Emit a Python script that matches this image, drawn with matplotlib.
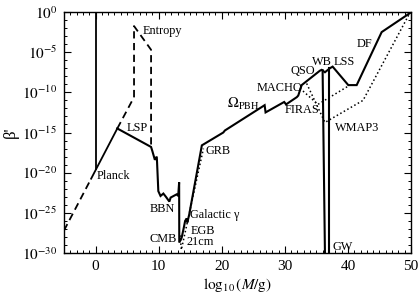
import matplotlib
matplotlib.use("Agg")
import matplotlib.pyplot as plt
from matplotlib.ticker import MultipleLocator
import numpy as np

plt.rcParams['font.family'] = ['Liberation Serif', 'DejaVu Serif']
plt.rcParams['mathtext.fontset'] = 'stix'

# Data: log10(M/g) and log10(beta')
planck_vert_x = [0.0, 0.0]
planck_vert_y = [0.0, -19.6]

planck_dash1_x = [-5.0, -0.7]
planck_dash1_y = [-27.2, -20.75]
planck_solid_x = [-0.7, 3.45]
planck_solid_y = [-20.75, -14.5]
planck_dash2_x = [3.45, 6.1]
planck_dash2_y = [-14.5, -10.6]

entropy_x = [6.1, 6.1, 8.8, 8.8]
entropy_y = [-10.6, -1.75, -4.7, -17.0]

main_x = [3.45, 8.8, 9.0, 9.4, 9.7, 9.75, 9.95, 10.3, 10.75, 11.15, 11.7, 11.9,
          12.85, 13.1, 13.25, 13.27, 13.65, 14.0, 14.2, 14.45, 14.55, 14.85,
          16.85, 20.25, 20.5, 26.8, 26.95, 29.9, 30.2, 31.9, 32.13, 32.67,
          35.57, 35.84, 36.36, 37.15, 37.58, 40.06, 41.39, 45.35, 49.9]
main_y = [-14.5, -16.8, -17.3, -18.4, -18.0, -18.7, -22.3, -22.9, -22.6, -23.0, -23.6, -23.1,
          -22.7, -22.9, -21.2, -28.7, -28.1, -26.8, -26.0, -25.7, -26.2, -25.2,
          -16.6, -15.0, -14.75, -11.6, -12.5, -11.2, -11.5, -10.6, -10.4, -9.1,
          -7.3, -7.2, -7.5, -7.0, -6.8, -9.1, -9.1, -2.5, -0.1]

cm21_x = [13.4, 13.6, 17.1]
cm21_y = [-27.8, -29.6, -17.0]

gw1_x = [35.99, 36.36]
gw1_y = [-7.25, -30.0]
gw2_x = [36.94, 36.94]
gw2_y = [-7.0, -30.0]

firas_x = [32.4, 35.25, 40.0]
firas_y = [-9.5, -11.5, -9.25]
wmap_x = [33.46, 36.36, 42.4, 49.83]
wmap_y = [-8.9, -13.75, -11.0, -0.1]

labels = [
    ("Entropy", 7.4, -2.4),
    ("LSP", 5.0, -14.4),
    ("Planck", 0.25, -20.4),
    ("BBN", 8.6, -24.5),
    ("CMB", 8.6, -28.25),
    ("Galactic γ", 15.0, -25.25),
    ("EGB", 15.0, -27.2),
    ("21cm", 14.35, -28.6),
    ("GRB", 17.35, -17.25),
    ("FIRAS", 29.9, -12.25),
    ("MACHO", 25.6, -9.4),
    ("QSO", 30.95, -7.4),
    ("WB", 34.3, -6.25),
    ("LSS", 37.8, -6.25),
    ("DF", 41.4, -4.0),
    ("WMAP3", 37.95, -14.4),
    ("GW", 37.6, -29.25),
]
omega_label = ("$\\Omega_{\\rm PBH}$", 20.8, -11.5)

y_ticks = [0, -5, -10, -15, -20, -25, -30]
x_ticks = [0, 10, 20, 30, 40, 50]

fig = plt.figure(figsize=(4.19, 2.93), dpi=100)
ax = fig.add_axes([64/419, 40/293, 347/419, 241/293])

lw = 1.3
ax.plot(planck_vert_x, planck_vert_y, 'k-', lw=lw)
ax.plot(planck_dash1_x, planck_dash1_y, 'k--', lw=lw, dashes=(4, 2.5))
ax.plot(planck_solid_x, planck_solid_y, 'k-', lw=lw)
ax.plot(planck_dash2_x, planck_dash2_y, 'k--', lw=lw, dashes=(4, 2.5))
ax.plot(entropy_x, entropy_y, 'k--', lw=lw, dashes=(4, 2.5))
ax.plot(main_x, main_y, 'k-', lw=lw+0.2, solid_joinstyle='miter')
ax.plot(cm21_x, cm21_y, 'k:', lw=1.1)
ax.plot(gw1_x, gw1_y, 'k-', lw=lw+0.2)
ax.plot(gw2_x, gw2_y, 'k-', lw=lw+0.2)
ax.plot(firas_x, firas_y, 'k:', lw=1.1)
ax.plot(wmap_x, wmap_y, 'k:', lw=1.1)

for txt, x, y in labels:
    ax.text(x, y, txt, fontsize=8.8, ha='left', va='center')
ax.text(omega_label[1], omega_label[2], omega_label[0], fontsize=10.5,
        ha='left', va='center')

ax.set_xlim(-5, 50)
ax.set_ylim(-30, 0)
ax.set_xticks(x_ticks)
ax.set_xticklabels([str(v) for v in x_ticks])
ax.set_yticks(y_ticks)
ax.set_yticklabels(["$10^{%d}$" % v for v in y_ticks])
ax.xaxis.set_minor_locator(MultipleLocator(1))
ax.yaxis.set_minor_locator(MultipleLocator(1))
ax.tick_params(which='both', direction='in', top=True, right=True, labelsize=11)
ax.tick_params(which='major', length=5, width=0.8, pad=5)
ax.tick_params(which='minor', length=2.5, width=0.7)
for s in ax.spines.values():
    s.set_linewidth(1.0)

ax.set_xlabel("$\\log_{10}(M/\\mathrm{g})$", fontsize=11, labelpad=2)
ax.set_ylabel("β'", fontsize=12, labelpad=2)

fig.savefig("out.png", dpi=100)
